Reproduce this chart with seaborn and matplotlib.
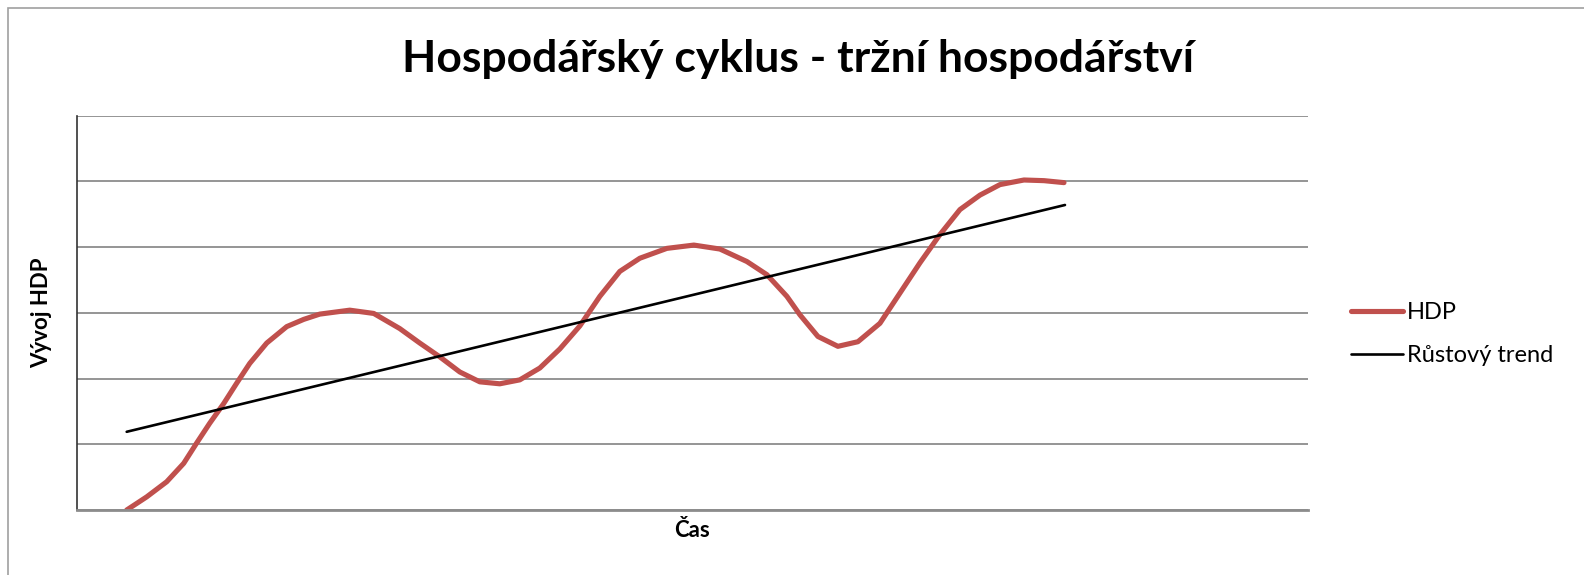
import pandas as pd
import seaborn as sns
import matplotlib.pyplot as plt
from matplotlib.patches import Rectangle

# time axis (category widths, 0..12.3) and values
hdp_t = [0.50, 0.70, 0.90, 1.07, 1.20, 1.33, 1.47, 1.60, 1.73, 1.90, 2.10, 2.27,
         2.43, 2.73, 2.97, 3.23, 3.43, 3.63, 3.83, 4.03, 4.23, 4.43, 4.63, 4.83,
         5.03, 5.23, 5.43, 5.63, 5.90, 6.17, 6.43, 6.70, 6.90, 7.10, 7.23, 7.41,
         7.61, 7.81, 8.03, 8.23, 8.43, 8.63, 8.83, 9.03, 9.23, 9.47, 9.67, 9.87]
hdp_v = [0.00, 0.20, 0.43, 0.71, 1.02, 1.32, 1.62, 1.93, 2.23, 2.54, 2.79, 2.90,
         2.98, 3.04, 2.99, 2.76, 2.54, 2.33, 2.10, 1.95, 1.92, 1.98, 2.16, 2.45,
         2.80, 3.25, 3.63, 3.83, 3.98, 4.03, 3.97, 3.78, 3.58, 3.25, 2.97, 2.64,
         2.49, 2.56, 2.84, 3.30, 3.76, 4.19, 4.57, 4.79, 4.95, 5.02, 5.01, 4.98]
trend_t = [0.50, 9.88]
trend_v = [1.19, 4.64]

hdp = pd.DataFrame({"t": hdp_t, "v": hdp_v})
trend = pd.DataFrame({"t": trend_t, "v": trend_v})

sns.set_style("white")
plt.rcParams["font.family"] = ["Lato", "DejaVu Sans"]
plt.rcParams["text.color"] = "black"
plt.rcParams["axes.labelcolor"] = "black"

fig = plt.figure(figsize=(15.84, 5.75), dpi=100)
ax = fig.add_axes([0.0484, 0.113, 0.7774, 0.686])

sns.lineplot(data=hdp, x="t", y="v", ax=ax, color="#C0504D", linewidth=3.7,
             label="HDP", sort=False, solid_capstyle="round", solid_joinstyle="round")
sns.lineplot(data=trend, x="t", y="v", ax=ax, color="black", linewidth=1.9,
             label="Růstový trend")

ax.set_xlim(0, 12.31)
ax.set_ylim(0, 6)
ax.set_yticks(range(7))
ax.set_xticks([])
ax.set_yticklabels([])
ax.tick_params(axis="y", length=0)
ax.grid(axis="y", color="#8c8c8c", linewidth=1.3)
ax.set_axisbelow(True)
for side in ["top", "right"]:
    ax.spines[side].set_visible(False)
ax.spines["left"].set_color("#333333")
ax.spines["left"].set_linewidth(1.2)
ax.spines["bottom"].set_color("#8c8c8c")
ax.spines["bottom"].set_linewidth(2)

ax.set_xlabel("Čas", fontsize=16, fontweight="bold", labelpad=7)
ax.set_ylabel("Vývoj HDP", fontsize=16, fontweight="bold", labelpad=14)

fig.text(0.504, 0.897, "Hospodářský cyklus - tržní hospodářství",
         ha="center", va="center", fontsize=32, fontweight="bold")

ax.legend(loc="center left", bbox_to_anchor=(0.853, 0.419), bbox_transform=fig.transFigure,
          frameon=False, fontsize=17, handlelength=2.2, handletextpad=0.15,
          labelspacing=0.95, borderpad=0, borderaxespad=0)

# chart border
fig.patches.append(Rectangle((8 / 1584, -0.05), 1.1, 1.05 - 8 / 575,
                             transform=fig.transFigure, fill=False,
                             edgecolor="#a0a0a0", linewidth=1.2))

fig.savefig("out.png", dpi=100)
